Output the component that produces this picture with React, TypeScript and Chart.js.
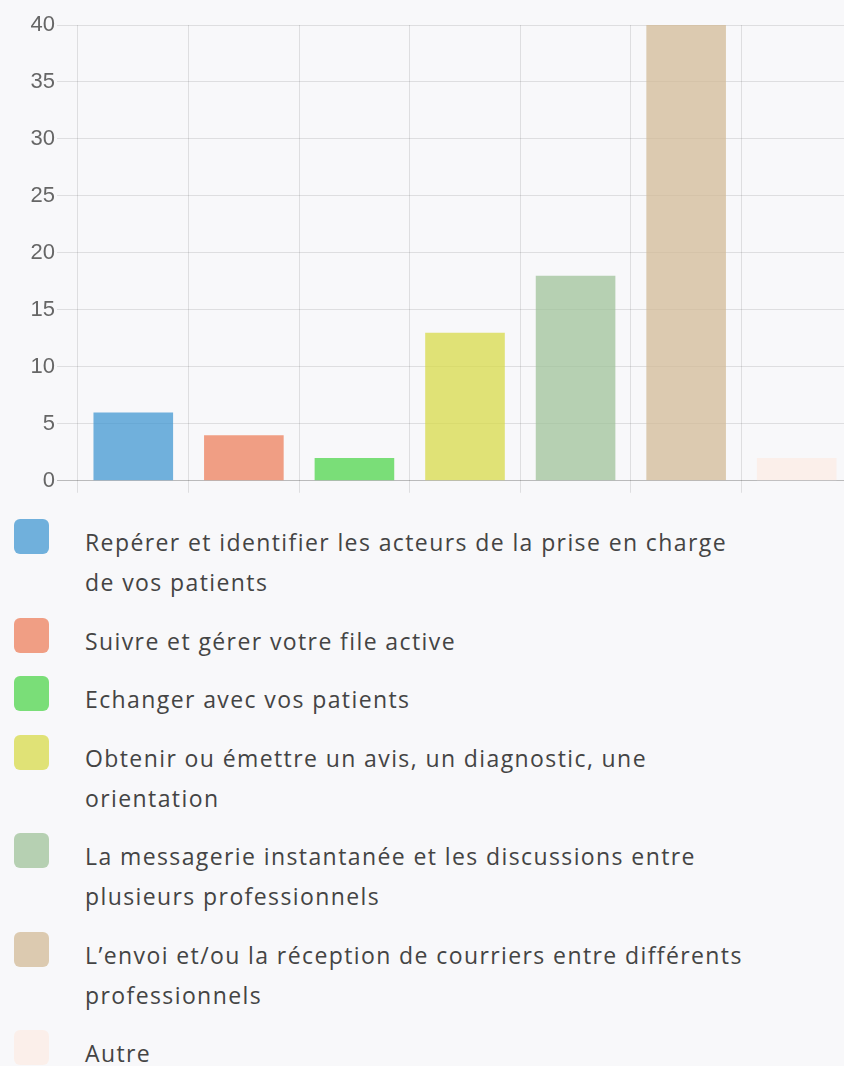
import React, { useEffect, useRef } from 'react';
import { Chart, registerables } from 'chart.js';

Chart.register(...registerables);

const categories = [
  'Repérer et identifier les acteurs de la prise en charge de vos patients',
  'Suivre et gérer votre file active',
  'Echanger avec vos patients',
  'Obtenir ou émettre un avis, un diagnostic, une orientation',
  'La messagerie instantanée et les discussions entre plusieurs professionnels',
  'L’envoi et/ou la réception de courriers entre différents professionnels',
  'Autre',
];
const values = [6, 4, 2, 13, 18, 40, 2];
const colors = [
  'rgba(54,145,207,0.7)',
  'rgba(237,119,81,0.7)',
  'rgba(68,211,64,0.7)',
  'rgba(214,217,61,0.7)',
  'rgba(154,191,147,0.7)',
  'rgba(208,182,144,0.7)',
  'rgba(252,235,227,0.7)',
];
const yMin = 0;
const yMax = 40;
const yStep = 5;

export default function App() {
  const ref = useRef<HTMLCanvasElement>(null);
  useEffect(() => {
    const chart = new Chart(ref.current!, {
      type: 'bar',
      data: {
        labels: categories,
        datasets: [{ data: values, backgroundColor: colors, borderWidth: 0 }],
      },
      options: {
        responsive: false,
        animation: false,
        layout: { padding: { top: 25, bottom: 0, left: 0, right: 0 } },
        plugins: { legend: { display: false }, tooltip: { enabled: false } },
        scales: {
          x: {
            grid: { color: 'rgba(0,0,0,0.1)', tickLength: 12 },
            border: { display: false },
            ticks: { display: false },
          },
          y: {
            min: yMin,
            max: yMax,
            ticks: {
              stepSize: yStep,
              color: '#666',
              padding: 2,
              font: { family: '"Liberation Sans", Arial, sans-serif', size: 22 },
            },
            grid: {
              color: (c: any) => (c.tick && c.tick.value === 0 ? 'rgba(0,0,0,0.25)' : 'rgba(0,0,0,0.1)'),
              tickLength: 21,
            },
            border: { display: false },
            afterFit: (s: any) => {
              s.width = 78;
            },
          },
        },
      },
    });
    return () => chart.destroy();
  }, []);

  return (
    <div
      style={{
        position: 'fixed',
        left: 0,
        top: 0,
        width: 844,
        height: 1066,
        overflow: 'hidden',
        background: '#f8f8fa',
      }}
    >
      <canvas ref={ref} width={852} height={496} style={{ position: 'absolute', left: 0, top: 0 }} />
      <div style={{ position: 'absolute', left: 0, top: 522 }}>
        {categories.map((c, i) => (
          <div
            key={i}
            style={{
              position: 'relative',
              paddingLeft: 85,
              width: 668,
              lineHeight: '40px',
              marginBottom: 18.5,
              fontFamily: '"Open Sans", "Noto Sans", sans-serif',
              fontSize: 23,
              letterSpacing: 1.4,
              color: '#444',
            }}
          >
            <span
              style={{
                position: 'absolute',
                left: 14,
                top: -3,
                width: 35,
                height: 35,
                borderRadius: 6,
                background: colors[i],
              }}
            />
            {c}
          </div>
        ))}
      </div>
    </div>
  );
}
